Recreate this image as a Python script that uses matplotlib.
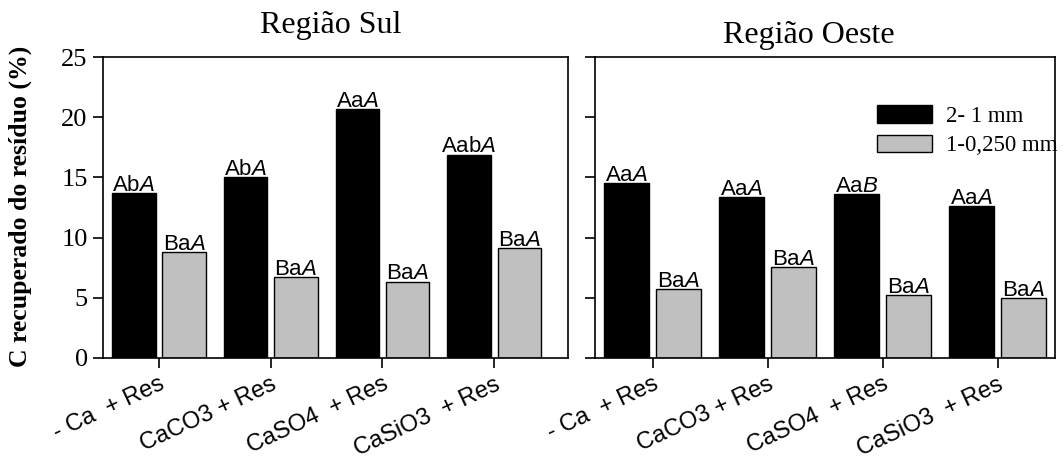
import numpy as np
import matplotlib
matplotlib.use("Agg")
import matplotlib.pyplot as plt

plt.rcParams["mathtext.fontset"] = "custom"
plt.rcParams["mathtext.rm"] = "Liberation Sans"
plt.rcParams["mathtext.it"] = "Liberation Sans:italic"

treatments = ["- Ca  + Res", "CaCO3 + Res", "CaSO4  + Res", "CaSiO3  + Res"]
size_labels = ["2- 1 mm", "1-0,250 mm"]

sul_coarse = [13.7, 15.05, 20.7, 16.9]
sul_fine = [8.8, 6.7, 6.35, 9.15]
oeste_coarse = [14.55, 13.4, 13.6, 12.6]
oeste_fine = [5.7, 7.55, 5.2, 4.95]

sul_coarse_lab = ["Ab$\\mathit{A}$", "Ab$\\mathit{A}$", "Aa$\\mathit{A}$", "Aab$\\mathit{A}$"]
sul_fine_lab = ["Ba$\\mathit{A}$"] * 4
oeste_coarse_lab = ["Aa$\\mathit{A}$", "Aa$\\mathit{A}$", "Aa$\\mathit{B}$", "Aa$\\mathit{A}$"]
oeste_fine_lab = ["Ba$\\mathit{A}$"] * 4

colors = ["black", "#c0c0c0"]
serif = "Liberation Serif"
sans = "Liberation Sans"

fig = plt.figure(figsize=(10.64, 4.59), dpi=100)
ax1 = fig.add_axes([103 / 1064, 1 - 358 / 459, 465 / 1064, 301 / 459])
ax2 = fig.add_axes([595 / 1064, 1 - 358 / 459, 460 / 1064, 301 / 459])

x = np.arange(len(treatments))
width = 0.39
off = 0.225


def draw(ax, coarse, fine, clab, flab, xmax):
    b1 = ax.bar(x - off, coarse, width, color=colors[0], edgecolor="black",
                linewidth=1, label=size_labels[0])
    b2 = ax.bar(x + off, fine, width, color=colors[1], edgecolor="black",
                linewidth=1, label=size_labels[1])
    for bars, labs in ((b1, clab), (b2, flab)):
        for r, t in zip(bars, labs):
            ax.annotate(t, (r.get_x() + r.get_width() / 2, r.get_height()),
                        xytext=(0, 1.5), textcoords="offset points",
                        ha="center", va="baseline", fontsize=16, family=sans)
    ax.set_xlim(-0.5, xmax)
    ax.set_ylim(0, 25)
    ax.set_yticks(np.arange(0, 26, 5))
    ax.set_xticks(x)
    ax.set_xticklabels(treatments, rotation=25, ha="right", va="top",
                       rotation_mode="anchor", fontsize=17, family=sans)
    ax.tick_params(direction="out", length=7, width=1.2, pad=4)
    for s in ax.spines.values():
        s.set_linewidth(1.2)
    return b1, b2


draw(ax1, sul_coarse, sul_fine, sul_coarse_lab, sul_fine_lab, 3.66)
b1, b2 = draw(ax2, oeste_coarse, oeste_fine, oeste_coarse_lab, oeste_fine_lab, 3.5)

for lab in ax1.get_yticklabels():
    lab.set_family(serif)
    lab.set_fontsize(19)
ax2.set_yticklabels([])

ax1.set_ylabel("C recuperado do resíduo (%)", family=serif, fontsize=18.5,
               fontweight="bold")
ax1.yaxis.set_label_coords(-0.153, 0.505)

fig.text(331 / 1064, 1 - 33 / 459, "Região Sul", family=serif, fontsize=23,
         ha="center", va="baseline")
fig.text(809 / 1064, 1 - 43 / 459, "Região Oeste", family=serif, fontsize=23,
         ha="center", va="baseline")

ax2.legend(handles=[b1, b2], loc="upper left", frameon=False,
           bbox_to_anchor=(877 / 1064, 1 - 105 / 459),
           bbox_transform=fig.transFigure, borderpad=0, borderaxespad=0,
           handlelength=2.4, handleheight=0.8, handletextpad=0.6,
           labelspacing=0.35, prop={"family": serif, "size": 16.5})

fig.savefig("out.png", dpi=100)
